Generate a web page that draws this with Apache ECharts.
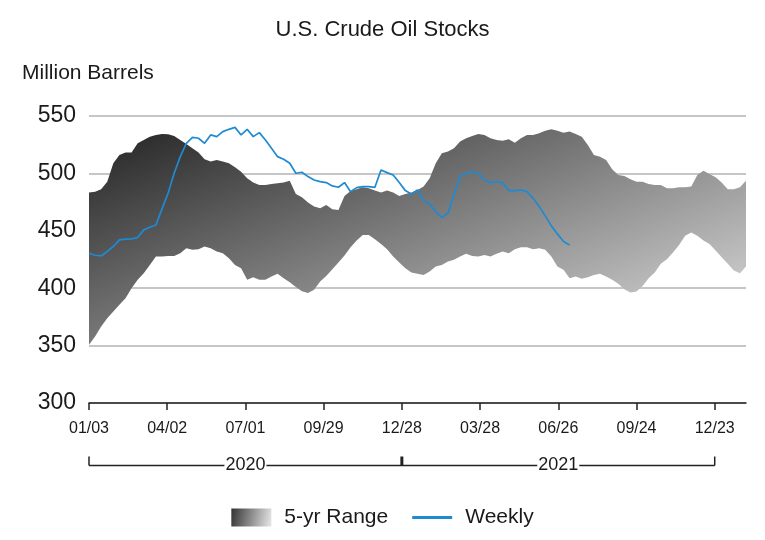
<!DOCTYPE html>
<html>
<head>
<meta charset="utf-8">
<script src="https://cdn.jsdelivr.net/npm/echarts@6/dist/echarts.min.js"></script>
<style>
  html, body { margin: 0; padding: 0; background: #fff; }
  #chart { width: 765px; height: 540px; }
</style>
</head>
<body>
<div id="chart"></div>
<script>
// ---- data ----
const startDate = Date.UTC(2020, 0, 3);           // first week (01/03/2020)
const weekDays = 7;
const tickDays = [0, 90, 180, 270, 360, 450, 540, 630, 720];
const yearBounds = [0, 360, 720];
const yearLabels = ['2020', '2021'];
const yTicks = [300, 350, 400, 450, 500, 550];

// 5-yr range upper / lower bounds (weekly, million barrels)
const rangeUpper = [
  483.3, 484.1, 486.2, 492.8, 508.8, 516.1, 518.1, 518.1, 526.2, 529.1,
  532.0, 533.5, 534.3, 534.0, 532.6, 529.1, 525.6, 521.9, 518.1, 512.3,
  510.3, 511.7, 510.3, 508.8, 505.3, 501.5, 495.7, 492.0, 489.9, 489.9,
  490.8, 491.4, 492.0, 493.7, 482.1, 479.2, 474.6, 471.1, 469.6, 472.5,
  468.8, 468.2, 480.4, 484.7, 486.2, 487.9, 487.0, 485.0, 483.3, 485.0,
  483.3, 480.4, 482.1, 483.3, 485.6, 488.5, 495.7, 508.8, 517.5, 519.0,
  521.9, 527.7, 530.6, 532.6, 534.3, 533.5, 530.6, 529.1, 528.5, 529.7,
  526.8, 530.6, 533.5, 533.5, 534.9, 537.2, 538.4, 537.2, 535.5, 536.4,
  534.3, 532.0, 524.8, 516.1, 514.6, 511.7, 503.6, 498.6, 497.8, 494.9,
  492.8, 492.8, 490.8, 489.9, 489.9, 487.0, 487.0, 487.9, 487.9, 488.5,
  498.6, 502.4, 499.5, 496.6, 492.0, 486.2, 486.2, 487.9, 493.7
];
const rangeLower = [
  350.7, 357.9, 366.6, 373.9, 379.7, 385.5, 391.3, 400.0, 407.3, 413.1,
  420.3, 427.6, 427.6, 428.1, 428.1, 430.5, 434.8, 433.4, 434.0, 436.3,
  434.8, 431.9, 430.5, 426.1, 420.3, 417.4, 407.3, 409.5, 407.3, 407.3,
  410.2, 412.5, 408.7, 405.1, 401.1, 397.3, 395.8, 398.6, 405.8, 410.7,
  416.5, 422.3, 428.4, 435.7, 441.5, 446.4, 446.4, 442.7, 438.6, 434.0,
  427.6, 422.3, 417.4, 413.6, 412.5, 411.6, 414.5, 418.9, 420.3, 423.2,
  424.7, 427.6, 429.9, 428.1, 427.6, 429.0, 427.6, 429.9, 431.9, 430.5,
  434.0, 435.7, 435.7, 434.0, 434.8, 433.4, 427.6, 418.9, 416.0, 408.7,
  410.2, 408.2, 409.6, 411.6, 412.5, 410.2, 407.3, 403.8, 399.1, 396.2,
  397.1, 402.0, 408.7, 413.6, 421.2, 425.2, 431.0, 437.7, 445.6, 448.5,
  445.6, 441.5, 438.6, 432.8, 427.0, 421.2, 415.4, 413.1, 418.9
];
// Weekly stocks
const weekly = [
  430.5, 428.7, 428.1, 432.0, 436.3, 442.1, 442.7, 442.9, 444.1, 450.8,
  453.1, 455.1, 469.1, 482.7, 500.1, 514.6, 526.2, 531.4, 530.6, 526.2,
  533.5, 532.0, 536.4, 538.4, 540.1, 533.5, 538.4, 532.0, 535.5, 529.1,
  521.9, 514.6, 512.3, 508.8, 500.1, 501.0, 497.2, 494.3, 492.8, 492.0,
  489.1, 487.9, 492.0, 484.1, 487.6, 488.5, 488.5, 487.9, 503.0, 500.7,
  498.6, 492.0, 485.0, 482.1, 485.6, 476.3, 473.4, 466.7, 461.5, 465.3,
  481.2, 497.2, 500.1, 501.5, 500.1, 494.3, 492.0, 492.8, 492.0, 485.0,
  485.0, 485.6, 484.1, 478.3, 471.1, 463.0, 454.3, 447.3, 440.6, 437.7
];

// ---- build ----
const rangeData = rangeUpper.map((u, i) => [i * weekDays, rangeLower[i], u]);
const weeklyData = weekly.map((v, i) => [i * weekDays, v]);

function fmtDay(d) {
  const dt = new Date(startDate + d * 86400000);
  const mm = String(dt.getUTCMonth() + 1).padStart(2, '0');
  const dd = String(dt.getUTCDate()).padStart(2, '0');
  return mm + '/' + dd;
}

const FONT = '"Liberation Sans", Arial, sans-serif';
const TXT = '#1a1a1a';
const BLUE = '#1f8ad2';

function bandGradient() {
  return new echarts.graphic.LinearGradient(0, 0, 0.24, 1.85, [
    { offset: 0, color: '#222222' },
    { offset: 1, color: '#dcdcdc' }
  ]);
}
const legendGradient = new echarts.graphic.LinearGradient(0, 0, 1, 0.4, [
  { offset: 0, color: '#333333' },
  { offset: 1, color: '#e0e0e0' }
]);

function renderBand(params, api) {
  if (params.dataIndex !== 0) return null;
  const n = rangeData.length;
  const pts = [];
  for (let i = 0; i < n; i++) pts.push(api.coord([rangeData[i][0], rangeData[i][2]]));
  for (let i = n - 1; i >= 0; i--) pts.push(api.coord([rangeData[i][0], rangeData[i][1]]));
  return {
    type: 'polygon',
    shape: { points: pts },
    style: { fill: bandGradient(), stroke: null },
    silent: true
  };
}

const chart = echarts.init(document.getElementById('chart'), null, { renderer: 'canvas' });

const option = {
  animation: false,
  backgroundColor: '#ffffff',
  textStyle: { fontFamily: FONT, color: TXT },
  title: [
    { text: 'U.S. Crude Oil Stocks', left: 'center', top: 14,
      textStyle: { fontFamily: FONT, fontSize: 22, fontWeight: 'normal', color: TXT } },
    { text: 'Million Barrels', left: 17, top: 58,
      textStyle: { fontFamily: FONT, fontSize: 21, fontWeight: 'normal', color: TXT } }
  ],
  grid: { left: 89, right: 19, top: 116, bottom: 137, containLabel: false },
  xAxis: {
    type: 'value',
    min: 0,
    max: 756,
    interval: 90,
    axisLine: { show: true, lineStyle: { color: '#222', width: 1.5 } },
    axisTick: { show: true, length: 7, lineStyle: { color: '#222', width: 1.5 }, customValues: tickDays },
    axisLabel: { customValues: tickDays, formatter: v => fmtDay(v), fontFamily: FONT, fontSize: 16, color: TXT, margin: 18 },
    splitLine: { show: false }
  },
  yAxis: {
    type: 'value',
    min: 300,
    max: 550,
    interval: 50,
    axisLine: { show: false },
    axisTick: { show: false },
    axisLabel: { fontFamily: FONT, fontSize: 23, color: TXT, margin: 13 },
    splitLine: { show: true, lineStyle: { color: '#c6c6c6', width: 2 } }
  },
  legend: {
    bottom: 7,
    left: 'center',
    itemWidth: 40,
    itemHeight: 18,
    itemGap: 24,
    textStyle: { fontFamily: FONT, fontSize: 21, color: TXT, padding: [0, 0, 0, 8] },
    data: [
      { name: '5-yr Range', icon: 'rect', itemStyle: { color: legendGradient, borderWidth: 0 } },
      { name: 'Weekly', icon: 'path://M0,0H40V3H0Z', itemStyle: { color: BLUE } }
    ]
  },
  series: [
    {
      name: '5-yr Range', type: 'custom', data: rangeData,
      encode: { x: 0, y: [1, 2] },
      itemStyle: { color: '#555' },
      renderItem: renderBand, z: 2
    },
    {
      name: 'Weekly', type: 'line', data: weeklyData, symbol: 'none',
      itemStyle: { color: BLUE },
      lineStyle: { color: BLUE, width: 1.7 }, z: 5
    }
  ]
};
chart.setOption(option);

// year bracket below the date labels, positioned through the axis scales
function drawBracket() {
  const yAxisPx = chart.convertToPixel({ yAxisIndex: 0 }, yTicks[0]);
  const by = Math.round(yAxisPx + 62) + 0.5;
  const xs = yearBounds.map(d => chart.convertToPixel({ xAxisIndex: 0 }, d));
  const els = [];
  els.push({ type: 'line', shape: { x1: xs[0], y1: by, x2: xs[xs.length - 1], y2: by },
             style: { stroke: '#222', lineWidth: 1.5 }, z: 10 });
  xs.forEach((x, i) => {
    const mid = i > 0 && i < xs.length - 1;
    els.push({ type: 'line', shape: { x1: x, y1: by - 9, x2: x, y2: by },
               style: { stroke: '#222', lineWidth: mid ? 3 : 1.5 }, z: 10 });
  });
  yearLabels.forEach((t, i) => {
    const cx = (xs[i] + xs[i + 1]) / 2;
    els.push({ type: 'text', x: cx, y: by, z: 11,
               style: { text: t, fontFamily: FONT, fontSize: 18, fill: TXT,
                        align: 'center', verticalAlign: 'middle',
                        backgroundColor: '#fff', padding: [0, 1] } });
  });
  chart.setOption({ graphic: els });
}
drawBracket();
</script>
</body>
</html>
